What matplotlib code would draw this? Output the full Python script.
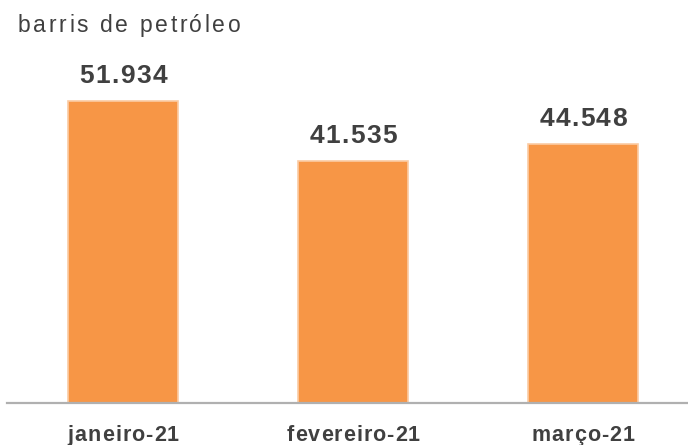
import matplotlib
matplotlib.use('Agg')
import matplotlib.pyplot as plt
from matplotlib.font_manager import FontProperties

# data
months = ['janeiro-21', 'fevereiro-21', 'março-21']
barrels = [51934, 41535, 44548]
labels = ['51.934', '41.535', '44.548']

plt.rcParams['font.family'] = ['Liberation Sans', 'DejaVu Sans']

W, H = 688, 445
fig = plt.figure(figsize=(W / 100, H / 100), dpi=100)
# axes: x 7..688 px, y from baseline 403 px up to 60 px (from top)
ax = fig.add_axes([7 / W, (H - 403) / H, 681 / W, (403 - 60) / H])

x = list(range(len(months)))
ax.bar(x, barrels, width=0.48, color='#F79646', edgecolor='#FBCBA3', linewidth=1.2)

scale = 302 / 51934
ax.set_ylim(0, (403 - 60) / scale)
ax.set_xlim(-0.506, 2.457)
ax.set_xticks([])
ax.set_yticks([])
for s in ['top', 'right', 'left']:
    ax.spines[s].set_visible(False)
ax.spines['bottom'].set_color('#B0B0B0')
ax.spines['bottom'].set_linewidth(1.6)

renderer = fig.canvas.get_renderer()


def tracked_text(px, py, s, size, weight='normal', tracking=0.0, ha='center',
                 color='#404040'):
    # draw text letter by letter with extra spacing (px), baseline at py
    prop = FontProperties(family=['Liberation Sans', 'DejaVu Sans'], size=size, weight=weight)
    def width(t):
        if not t:
            return 0.0
        return renderer.get_text_width_height_descent(t, prop, ismath=False)[0]
    total = width(s) + tracking * (len(s) - 1)
    start = px - total / 2 if ha == 'center' else px
    for i, ch in enumerate(s):
        cx = start + width(s[:i]) + tracking * i
        fig.text(cx / W, py / H, ch, fontproperties=prop, color=color,
                 ha='left', va='baseline')


# title
tracked_text(18, H - 32, 'barris de petróleo', 16.5, tracking=2.6, ha='left', color='#404040')

# value labels above bars
for xi, v, lab in zip(x, barrels, labels):
    dx, dy = ax.transData.transform((xi, v))
    tracked_text(dx, dy + 18, lab, 19, weight='bold', tracking=1.4)

# category labels
for xi, m in zip(x, months):
    dx, _ = ax.transData.transform((xi, 0))
    tracked_text(dx, H - 441, m, 15.5, weight='bold', tracking=1.0)

fig.savefig('out.png', dpi=100)
